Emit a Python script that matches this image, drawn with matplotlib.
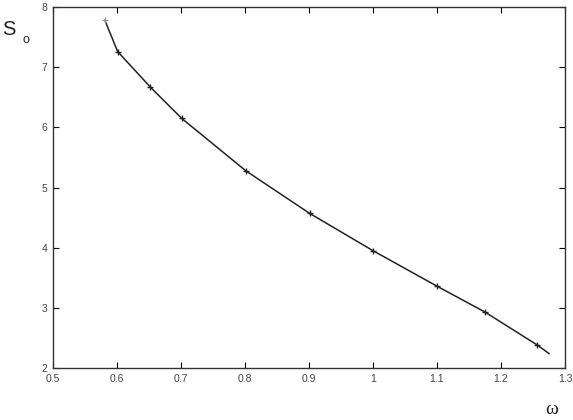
import matplotlib
matplotlib.use('Agg')
import matplotlib.pyplot as plt

# curve S_o(omega)
omega = [0.581, 0.601, 0.652, 0.701, 0.801, 0.901, 1.0, 1.1, 1.175, 1.257, 1.275]
s_o = [7.78, 7.26, 6.67, 6.15, 5.28, 4.57, 3.95, 3.36, 2.93, 2.38, 2.24]

xticks = [0.5, 0.6, 0.7, 0.8, 0.9, 1, 1.1, 1.2, 1.3]
yticks = [2, 3, 4, 5, 6, 7, 8]

plt.rcParams['font.family'] = ['Liberation Sans', 'DejaVu Sans']

fig = plt.figure(figsize=(5.73, 4.2), dpi=100)
ax = fig.add_axes([0.0925, 0.1238, 0.8935, 0.8595])

ax.plot(omega, s_o, color='#222222', lw=1.1)
# markers on the computed points (not on the two end points)
ax.plot(omega[1:-1], s_o[1:-1], ls='none', marker='+', ms=5, mew=1.0, color='#222222')
ax.plot(omega[:1], s_o[:1], ls='none', marker='+', ms=5, mew=0.8, color='#999999')

ax.set_xlim(0.5, 1.3)
ax.set_ylim(2, 8)
ax.set_xticks(xticks)
ax.set_yticks(yticks)
ax.set_xticklabels([f'{t:g}' for t in xticks])
ax.set_yticklabels([f'{t:g}' for t in yticks])
ax.tick_params(direction='in', top=True, right=True, length=4, width=0.8,
               labelsize=7.5, labelcolor='#444444', pad=4)
for sp in ax.spines.values():
    sp.set_linewidth(1.0)
    sp.set_color('#333333')

fig.text(0.003, 0.929, 'S', fontsize=14.5, color='#222222', ha='left', va='center')
fig.text(0.040, 0.905, 'o', fontsize=9, color='#222222', ha='left', va='center')
fig.text(0.963, 0.026, 'ω', fontsize=14, family='Liberation Serif', color='#222222',
         ha='center', va='center')

fig.savefig('out.png', dpi=100)
